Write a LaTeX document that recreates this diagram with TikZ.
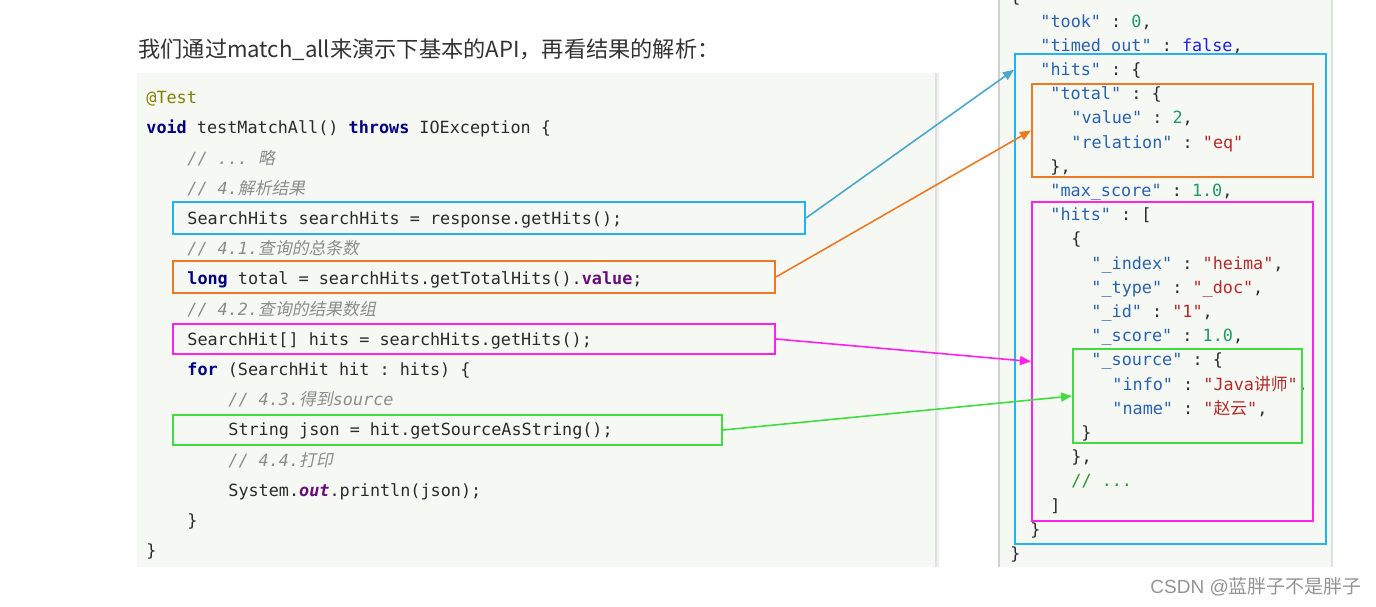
\documentclass[tikz,border=0pt]{standalone}
\usepackage{fontspec}
\setmonofont{DejaVu Sans Mono}
\newfontfamily\cjk{Noto Sans CJK SC}
\newfontfamily\cjkit[FakeSlant=0.2]{Noto Sans CJK SC}
\newfontfamily\wmfont{Liberation Sans}
\usetikzlibrary{fit,arrows.meta}

\definecolor{panelbg}{HTML}{F6F8F4}
\definecolor{plain}{HTML}{2B2B2B}
\definecolor{kwblue}{HTML}{000080}
\definecolor{fldpurple}{HTML}{660E7A}
\definecolor{anno}{HTML}{808000}
\definecolor{cmtgray}{HTML}{8C8C8C}
\definecolor{jkey}{HTML}{2862AE}
\definecolor{jnum}{HTML}{1E9A68}
\definecolor{jstr}{HTML}{B52A2A}
\definecolor{jbool}{HTML}{2020E8}
\definecolor{jcmt}{HTML}{2A9A2A}
\definecolor{boxblue}{HTML}{22B4EC}
\definecolor{arrblue}{HTML}{4AA8CA}
\definecolor{boxorange}{HTML}{EC7A24}
\definecolor{boxmagenta}{HTML}{FF22EE}
\definecolor{boxgreen}{HTML}{40DC40}

\newcommand\kw[1]{{\color{kwblue}\bfseries #1}}
\newcommand\fld[1]{{\color{fldpurple}\bfseries #1}}
\newcommand\cmt[1]{{\color{cmtgray}\itshape #1}}
\newcommand\jk[1]{{\color{jkey}"#1"}}
\newcommand\jn[1]{{\color{jnum}#1}}
\newcommand\js[1]{{\color{jstr}"#1"}}

\tikzset{
  code/.style={anchor=west, inner sep=0pt, text height=7.2pt, text depth=1.6pt,
    font=\ttfamily\fontsize{8.4}{10}\selectfont, text=plain},
  hl/.style={draw=#1, line width=1pt, inner sep=0pt},
  link/.style={draw=#1, line width=0.8pt, -{Triangle[length=5.5pt,width=4.5pt]}},
}

\begin{document}
\begin{tikzpicture}[x=0.5pt, y=-0.5pt]
  \useasboundingbox (0,0) rectangle (1376,606);

  % panels
  \fill[panelbg] (137,73) rectangle (935,567);
  \draw[black!12, line width=1pt] (935.5,73) -- (935.5,567);
  \draw[black!6, line width=1pt] (937.5,73) -- (937.5,567);
  \fill[panelbg] (999,0) rectangle (1332,567);
  \draw[black!18, line width=1pt] (999,0) -- (999,567);
  \draw[black!12, line width=0.8pt] (1332,0) -- (1332,567);

  \node[anchor=west, inner sep=0pt, text=black!80,
    font=\cjk\fontsize{11.1}{13}\selectfont] (title) at (138,50)
    {我们通过match\_all来演示下基本的API，再看结果的解析：};

  % java code
  \node[code] (c1) at (146,98) {{\color{anno}@Test}};
  \node[code] (c2) at (146,128.2) {\kw{void} testMatchAll() \kw{throws} IOException \{};
  \node[code] (c3) at (187,158.4) {\cmt{// ... {\cjkit 略}}};
  \node[code] (c4) at (187,188.6) {\cmt{// 4.{\cjkit 解析结果}}};
  \node[code] (c5) at (187,218.8) {SearchHits searchHits = response.getHits();};
  \node[code] (c6) at (187,249) {\cmt{// 4.1.{\cjkit 查询的总条数}}};
  \node[code] (c7) at (187,279.2) {\kw{long} total = searchHits.getTotalHits().\fld{value};};
  \node[code] (c8) at (187,309.4) {\cmt{// 4.2.{\cjkit 查询的结果数组}}};
  \node[code] (c9) at (187,339.6) {SearchHit[] hits = searchHits.getHits();};
  \node[code] (c10) at (187,369.8) {\kw{for} (SearchHit hit : hits) \{};
  \node[code] (c11) at (228,400) {\cmt{// 4.3.{\cjkit 得到}source}};
  \node[code] (c12) at (228,430.2) {String json = hit.getSourceAsString();};
  \node[code] (c13) at (228,460.4) {\cmt{// 4.4.{\cjkit 打印}}};
  \node[code] (c14) at (228,490.6) {System.{\color{fldpurple}\bfseries\itshape out}.println(json);};
  \node[code] (c15) at (187,520.8) {\}};
  \node[code] (c16) at (146,551) {\}};

  % json result
  \node[code] (j0) at (1010,-2.8) {\{};
  \node[code] (j1) at (1040,21.4) {\jk{took} : \jn{0},};
  \node[code] (j2) at (1040,45.6) {\jk{timed\_out} : {\color{jbool}false},};
  \node[code] (j3) at (1040,69.8) {\jk{hits} : \{};
  \node[code] (j4) at (1050,94) {\jk{total} : \{};
  \node[code] (j5) at (1071,118.2) {\jk{value} : \jn{2},};
  \node[code] (j6) at (1071,142.4) {\jk{relation} : \js{eq}};
  \node[code] (j7) at (1050,166.6) {\},};
  \node[code] (j8) at (1050,190.8) {\jk{max\_score} : \jn{1.0},};
  \node[code] (j9) at (1050,215) {\jk{hits} : [};
  \node[code] (j10) at (1071,239.2) {\{};
  \node[code] (j11) at (1091,263.4) {\jk{\_index} : \js{heima},};
  \node[code] (j12) at (1091,287.6) {\jk{\_type} : \js{\_doc},};
  \node[code] (j13) at (1091,311.8) {\jk{\_id} : \js{1},};
  \node[code] (j14) at (1091,336) {\jk{\_score} : \jn{1.0},};
  \node[code] (j15) at (1091,360.2) {\jk{\_source} : \{};
  \node[code] (j16) at (1112,384.4) {\jk{info} : \js{Java{\cjk 讲师}},};
  \node[code] (j17) at (1112,408.6) {\jk{name} : \js{{\cjk 赵云}},};
  \node[code] (j18) at (1081,432.8) {\}};
  \node[code] (j19) at (1071,457) {\},};
  \node[code] (j20) at (1071,481.2) {{\color{jcmt}// ...}};
  \node[code] (j21) at (1050,505.4) {]};
  \node[code] (j22) at (1030,529.6) {\}};
  \node[code] (j23) at (1010,553.8) {\}};

  % highlight boxes
  \node[hl=boxblue, fit={(173,202) (805,234)}] (cHits) {};
  \node[hl=boxorange, fit={(173,261) (775,293)}] (cTotal) {};
  \node[hl=boxmagenta, fit={(173,324) (775,354)}] (cArr) {};
  \node[hl=boxgreen, fit={(173,415) (722,445)}] (cSrc) {};
  \node[hl=boxblue, fit={(1015,54) (1326,544)}] (jHits) {};
  \node[hl=boxorange, fit={(1032,84) (1313,177)}] (jTotal) {};
  \node[hl=boxmagenta, fit={(1032,202) (1313,521)}] (jArr) {};
  \node[hl=boxgreen, fit={(1073,349) (1302,443)}] (jSrc) {};

  % links
  \draw[link=arrblue] (cHits.east) -- (jHits.west |- j3.west);
  \draw[link=boxorange] (cTotal.east) -- (jTotal.west);
  \draw[link=boxmagenta] (cArr.east) -- (jArr.west);
  \draw[link=boxgreen] (cSrc.east) -- (jSrc.west);

  \node[anchor=west, inner sep=0pt, text=black!42,
    font=\fontsize{9.5}{11}\selectfont] (mark) at (1150,587)
    {{\wmfont CSDN @}{\cjk 蓝胖子不是胖子}};
\end{tikzpicture}
\end{document}
